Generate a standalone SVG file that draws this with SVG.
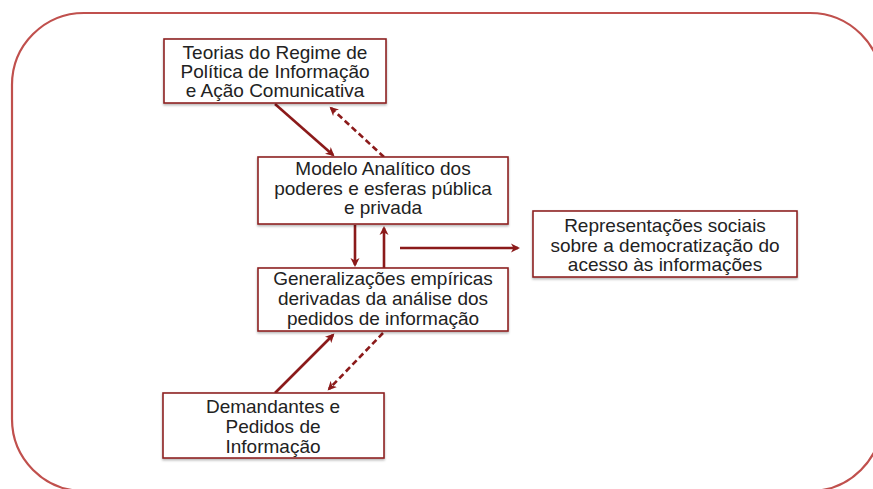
<svg xmlns="http://www.w3.org/2000/svg" width="873" height="489" viewBox="0 0 873 489">
<style>
.frame{fill:none;stroke:#c0504d;stroke-width:2.2}
.box{fill:#fff;stroke:#8e2424;stroke-width:1.6;filter:url(#sh)}
.t{font-family:"Liberation Sans",Arial,sans-serif;font-size:19px;fill:#222;text-anchor:middle}
.a{stroke:#8b1a1a;stroke-width:2.6;fill:none;marker-end:url(#ah)}
.d{stroke-dasharray:6 3.5}
</style>
<defs>
<marker id="ah" markerWidth="10" markerHeight="10" refX="7" refY="5" orient="auto" markerUnits="userSpaceOnUse" viewBox="0 0 10 10">
<path d="M0,0.5 L9,5 L0,9.5 L2.5,5 Z" fill="#8b1a1a"/>
</marker>
<filter id="sh" x="-5%" y="-5%" width="110%" height="115%">
<feDropShadow dx="0" dy="1.5" stdDeviation="1" flood-color="#000" flood-opacity="0.3"/>
</filter>
</defs>
<rect class="frame" x="12" y="13" width="870" height="478" rx="72" ry="72"/>
<g id="connectors">
<line class="a" x1="275" y1="104" x2="333" y2="155"/>
<line class="a d" x1="384" y1="157" x2="331" y2="108"/>
<line class="a" x1="355" y1="225" x2="355" y2="265"/>
<line class="a" x1="384" y1="268" x2="384" y2="228"/>
<line class="a" x1="400" y1="248" x2="518" y2="248"/>
<line class="a" x1="275" y1="393" x2="333" y2="335"/>
<line class="a d" x1="383" y1="333" x2="329" y2="389"/>
</g>
<g id="teorias">
<rect class="box" x="164" y="39" width="222" height="64"/>
<text class="t" x="275" y="59">Teorias do Regime de</text>
<text class="t" x="275" y="78">Política de Informação</text>
<text class="t" x="275" y="97">e Ação Comunicativa</text>
</g>
<g id="modelo">
<rect class="box" x="258" y="157" width="250" height="67"/>
<text class="t" x="383" y="175">Modelo Analítico dos</text>
<text class="t" x="383" y="195">poderes e esferas pública</text>
<text class="t" x="383" y="214">e privada</text>
</g>
<g id="generalizacoes">
<rect class="box" x="258" y="268" width="250" height="63"/>
<text class="t" x="383" y="285">Generalizações empíricas</text>
<text class="t" x="383" y="305">derivadas da análise dos</text>
<text class="t" x="383" y="325">pedidos de informação</text>
</g>
<g id="representacoes">
<rect class="box" x="533" y="211" width="264" height="66"/>
<text class="t" x="665" y="232">Representações sociais</text>
<text class="t" x="665" y="252">sobre a democratização do</text>
<text class="t" x="665" y="271">acesso às informações</text>
</g>
<g id="demandantes">
<rect class="box" x="163" y="393" width="221" height="65"/>
<text class="t" x="273" y="413">Demandantes e</text>
<text class="t" x="273" y="433">Pedidos de</text>
<text class="t" x="273" y="453">Informação</text>
</g>
</svg>
